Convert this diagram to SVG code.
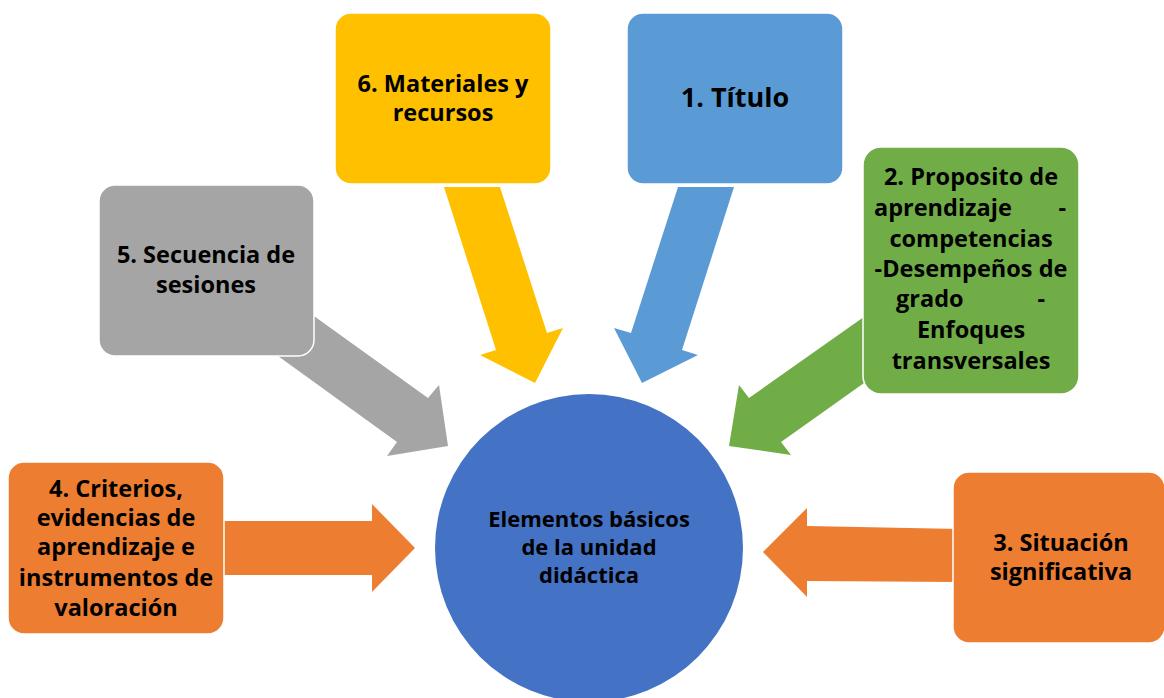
<svg xmlns="http://www.w3.org/2000/svg" width="1164" height="698" viewBox="0 0 1164 698">
<style>
.box{stroke:#fff;stroke-width:1.5}
.t{font-family:"Open Sans",Lato,"Liberation Sans",sans-serif;font-weight:bold;font-size:23.5px;fill:#000;text-anchor:middle}
.c{font-family:"Open Sans",Lato,"Liberation Sans",sans-serif;font-weight:bold;font-size:22px;fill:#000;text-anchor:middle}
.s{text-anchor:start}
.e{text-anchor:end}
</style>
<rect width="1164" height="698" fill="#fff"/>
<g id="connectors">
<polygon fill="#FFC000" points="444,187 500,187 547,333 563,328 535,383 480,355 496,350"/>
<polygon fill="#5B9BD5" points="678,187 734,187 682,350 698,355 642,383 614,328 631,333"/>
<polygon fill="#A5A5A5" points="300,306 428,398 439,385 448,446 387,456 397,442 278,356 280,330"/>
<polygon fill="#70AD47" points="895,295 749,398 739,385 729,446 791,455 781,442 895,361"/>
<polygon fill="#ED7D31" points="215,521 372,521 372,504 415,548 372,592 372,575 215,575"/>
<polygon fill="#ED7D31" points="960,529 807,526 807,508 763,552 807,597 807,581 960,582"/>
</g>
<g id="center">
<circle cx="589" cy="548" r="154" fill="#4472C4"/>
<text class="c" x="589" y="527">Elementos básicos</text>
<text class="c" x="589" y="555">de la unidad</text>
<text class="c" x="589" y="583">didáctica</text>
</g>
<g id="n6">
<rect class="box" x="335" y="13" width="216" height="171" rx="16" fill="#FFC000"/>
<text class="t" x="443" y="92">6. Materiales y</text>
<text class="t" x="443" y="121">recursos</text>
</g>
<g id="n1">
<rect class="box" x="627" y="13" width="216" height="171" rx="16" fill="#5B9BD5"/>
<text class="t" x="735" y="107" style="font-size:27px">1. Título</text>
</g>
<g id="n5">
<rect class="box" x="99" y="185" width="215" height="171" rx="16" fill="#A5A5A5"/>
<text class="t" x="206" y="263">5. Secuencia de</text>
<text class="t" x="206" y="293">sesiones</text>
</g>
<g id="n2">
<rect class="box" x="863" y="147" width="216" height="247" rx="18" fill="#70AD47"/>
<text class="t" x="971" y="185">2. Proposito de</text>
<text class="t s" x="874" y="216">aprendizaje</text>
<text class="t e" x="1066" y="216">-</text>
<text class="t" x="971" y="247">competencias</text>
<text class="t" x="971" y="277">-Desempeños de</text>
<text class="t s" x="896" y="307">grado</text>
<text class="t e" x="1045" y="307">-</text>
<text class="t" x="971" y="338">Enfoques</text>
<text class="t" x="971" y="369">transversales</text>
</g>
<g id="n4">
<rect class="box" x="8" y="462" width="216" height="172" rx="16" fill="#ED7D31"/>
<text class="t" x="116" y="497">4. Criterios,</text>
<text class="t" x="116" y="526">evidencias de</text>
<text class="t" x="116" y="555">aprendizaje e</text>
<text class="t" x="116" y="586">instrumentos de</text>
<text class="t" x="116" y="616">valoración</text>
</g>
<g id="n3">
<rect class="box" x="953" y="472" width="212" height="171" rx="16" fill="#ED7D31"/>
<text class="t" x="1061" y="551">3. Situación</text>
<text class="t" x="1061" y="580">significativa</text>
</g>
</svg>
